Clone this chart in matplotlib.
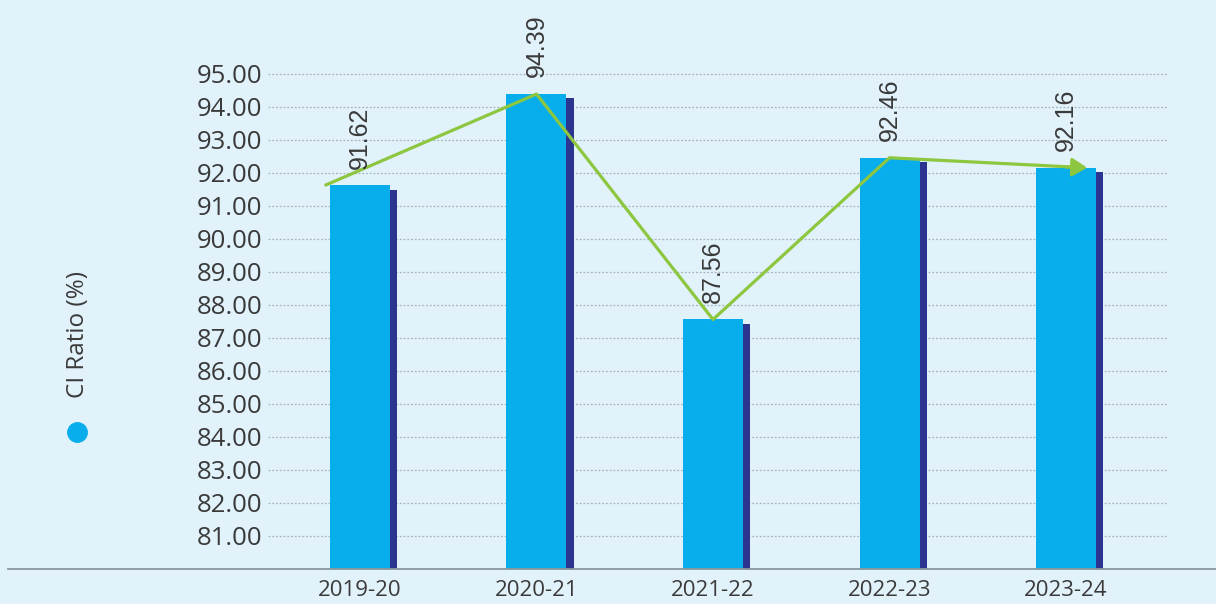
import matplotlib
matplotlib.use("Agg")
import matplotlib.pyplot as plt
from matplotlib.lines import Line2D

years = ["2019-20", "2020-21", "2021-22", "2022-23", "2023-24"]
ci_ratio = [91.62, 94.39, 87.56, 92.46, 92.16]
yticks = list(range(81, 96))

BG = "#E1F2FB"
BAR = "#08AEEC"
SHADOW = "#2B3590"
GREEN = "#8DC63F"
TEXT = "#3A3A3A"
GRID = "#A8B4BC"

W, H = 1216, 604
fig = plt.figure(figsize=(W / 100, H / 100), dpi=100, facecolor=BG)
ax = fig.add_axes([268 / W, 1 - 569 / H, (1167 - 268) / W, 569 / H])
ax.set_facecolor(BG)

x = list(range(len(years)))
bw = 0.34
# dark edge peeking out on the right of each bar
ax.bar([i + 0.04 for i in x], [v - 80.13 for v in ci_ratio], bottom=80,
       width=bw, color=SHADOW, zorder=2)
ax.bar(x, [v - 80 for v in ci_ratio], bottom=80, width=bw, color=BAR, zorder=3)

# trend line with arrow head on the last point
xl = [i + d for i, d in zip(x, [-0.2, 0.0, 0.0, 0.0, 0.12])]
ax.plot(xl[:-1] + [xl[-1] - 0.05], ci_ratio[:-1] + [ci_ratio[-1] + 0.01],
        color=GREEN, lw=2.3, zorder=4, solid_capstyle="butt")
ax.annotate("", xy=(xl[-1], ci_ratio[-1]), xytext=(xl[-1] - 0.12, ci_ratio[-1] + 0.02),
            arrowprops=dict(arrowstyle="-|>,head_length=0.9,head_width=0.55",
                            color=GREEN, lw=2.3, shrinkA=0, shrinkB=0), zorder=5)

for i, v in zip(x, ci_ratio):
    ax.annotate(f"{v:.2f}", xy=(i, v), xytext=(0, 12), textcoords="offset points",
                rotation=90, ha="center", va="bottom", fontsize=18,
                family="Liberation Sans", color=TEXT, zorder=6)

ax.set_xlim(-0.521, 4.572)
ax.set_ylim(80, 97.24)
ax.set_yticks(yticks)
ax.set_yticklabels([f"{t:.2f}" for t in yticks], fontsize=18.5,
                   family="Open Sans", color=TEXT)
ax.set_xticks(x)
ax.set_xticklabels(years, fontsize=16, family="Open Sans", color=TEXT)
ax.tick_params(axis="y", length=0, pad=4)
ax.tick_params(axis="x", length=0, pad=8)
ax.grid(axis="y", ls=(0, (1.5, 1.5)), color=GRID, lw=0.9, zorder=0)
for s in ax.spines.values():
    s.set_visible(False)

# baseline across the full width
fig.add_artist(Line2D([8 / W, 1], [1 - 569 / H] * 2, color="#8A979F", lw=1.3))

# series label on the left
fig.text(78 / W, 1 - 334 / H, "CI Ratio (%)", rotation=90, ha="center", va="center",
         fontsize=17.5, family="Open Sans", color=TEXT)
fig.add_artist(Line2D([77 / W], [1 - 432 / H], marker="o", ms=14, color=BAR, mec=BAR))

fig.savefig("out.png", dpi=100, facecolor=BG)
